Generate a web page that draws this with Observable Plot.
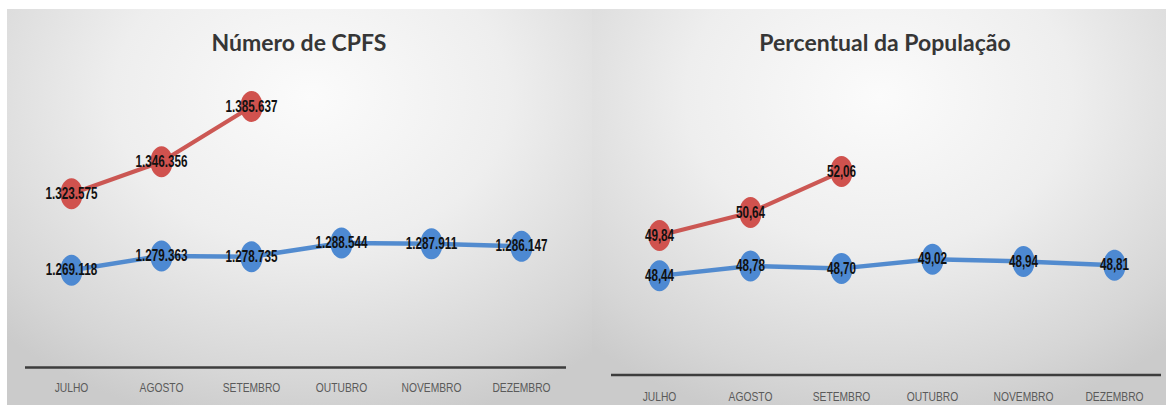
<!DOCTYPE html>
<html>
<head>
<meta charset="utf-8">
<script src="https://cdn.jsdelivr.net/npm/d3@7"></script>
<script src="https://cdn.jsdelivr.net/npm/@observablehq/plot@0.6"></script>
<style>
  html, body { margin: 0; padding: 0; background: #ffffff; width: 1166px; height: 405px; overflow: hidden; }
  .panel { position: absolute; top: 9px; height: 396px; overflow: hidden; }
  .panel svg { position: absolute; left: 0; top: 0; }
  .title { position: absolute; top: 19px; transform: translateX(-50%); white-space: nowrap;
           font-family: Lato, "Open Sans", sans-serif; font-weight: bold; font-size: 23px; line-height: 28px; color: #363636; z-index: 2; }
</style>
</head>
<body>
<div id="left" class="panel" style="left:7px;width:585px;background: radial-gradient(ellipse 75% 85% at 52% 22%, #fbfbfb 0%, #eeeeee 45%, #d6d6d6 85%, #cbcbcb 100%);">
  <div class="title" style="left:292px;">Número de CPFS</div>
</div>
<div id="right" class="panel" style="left:592px;width:574px;background: radial-gradient(ellipse 75% 85% at 50% 22%, #fbfbfb 0%, #eeeeee 45%, #d6d6d6 85%, #cbcbcb 100%);">
  <div class="title" style="left:293px;">Percentual da População</div>
</div>
<script>
// ---- data ----
const months = ["JULHO", "AGOSTO", "SETEMBRO", "OUTUBRO", "NOVEMBRO", "DEZEMBRO"];
const cpfsRed = [1323575, 1346356, 1385637];
const cpfsBlue = [1269118, 1279363, 1278735, 1288544, 1287911, 1286147];
const pctRed = [49.84, 50.64, 52.06];
const pctBlue = [48.44, 48.78, 48.70, 49.02, 48.94, 48.81];

const RED_LINE = "#c94f4b", RED_DOT = "#d0524e";
const BLUE_LINE = "#4a86cd", BLUE_DOT = "#4d89d2";

const ptBR = d3.formatLocale({decimal: ",", thousands: ".", grouping: [3], currency: ["", ""]});
const fmtInt = ptBR.format(",d");
const fmtPct = ptBR.format(".2f");

// ellipse symbol (taller than wide)
const ellipse = {
  draw(ctx, size) {
    const r = Math.sqrt(size / Math.PI);
    const rx = r * 0.72, ry = r, k = 0.5523;
    ctx.moveTo(rx, 0);
    ctx.bezierCurveTo(rx, ry * k, rx * k, ry, 0, ry);
    ctx.bezierCurveTo(-rx * k, ry, -rx, ry * k, -rx, 0);
    ctx.bezierCurveTo(-rx, -ry * k, -rx * k, -ry, 0, -ry);
    ctx.bezierCurveTo(rx * k, -ry, rx, -ry * k, rx, 0);
    ctx.closePath();
  }
};

function rows(vals) { return vals.map((v, i) => ({m: months[i], v})); }

function panel({width, height, mL, mR, mT, mB, domain, red, blue, fmt, pad}) {
  const R = rows(red), B = rows(blue);
  const labelFont = {fontFamily: "'Liberation Sans', Arial, sans-serif", fontWeight: "bold", fontSize: 16, fill: "#111"};
  return Plot.plot({
    width, height,
    marginLeft: mL, marginRight: mR, marginTop: mT, marginBottom: mB,
    style: {background: "transparent", overflow: "visible"},
    x: {type: "point", domain: months, padding: 0.5, axis: null},
    y: {domain, axis: null},
    marks: [
      Plot.ruleY([domain[0]], {stroke: "#3d3d3d", strokeWidth: 2.6}),
      Plot.axisX({tickSize: 0, tickPadding: pad, label: null, fontSize: 13, fill: "#5a5a5a",
                  fontFamily: "'Liberation Sans', Arial, sans-serif"}),
      Plot.line(B, {x: "m", y: "v", stroke: BLUE_LINE, strokeWidth: 4.5, strokeOpacity: 0.95}),
      Plot.line(R, {x: "m", y: "v", stroke: RED_LINE, strokeWidth: 4.2, strokeOpacity: 0.95}),
      Plot.dot(B, {x: "m", y: "v", r: 15.5, symbol: ellipse, fill: BLUE_DOT, stroke: null}),
      Plot.dot(R, {x: "m", y: "v", r: 15.5, symbol: ellipse, fill: RED_DOT, stroke: null}),
      Plot.text(B, {x: "m", y: "v", text: d => fmt(d.v), ...labelFont}),
      Plot.text(R, {x: "m", y: "v", text: d => fmt(d.v), ...labelFont})
    ]
  });
}

// condense text horizontally (the reference uses a narrow face)
function condense(svg, selector, factor) {
  svg.querySelectorAll(selector).forEach(t => {
    const w = t.getComputedTextLength();
    t.setAttribute("textLength", (w * factor).toFixed(2));
    t.setAttribute("lengthAdjust", "spacingAndGlyphs");
  });
}

const left = panel({width: 585, height: 396, mL: 18, mR: 26, mT: 6.4, mB: 38,
  domain: [1200000, 1450000], red: cpfsRed, blue: cpfsBlue, fmt: fmtInt, pad: 15});
document.getElementById("left").appendChild(left);

const right = panel({width: 574, height: 396, mL: 19, mR: 5, mT: 19.7, mB: 30.5,
  domain: [45, 57], red: pctRed, blue: pctBlue, fmt: fmtPct, pad: 17});
document.getElementById("right").appendChild(right);

for (const svg of [left, right]) {
  condense(svg, 'g[aria-label="text"] text', 0.73);
  condense(svg, 'g[aria-label="x-axis tick label"] text', 0.79);
}
</script>
</body>
</html>
